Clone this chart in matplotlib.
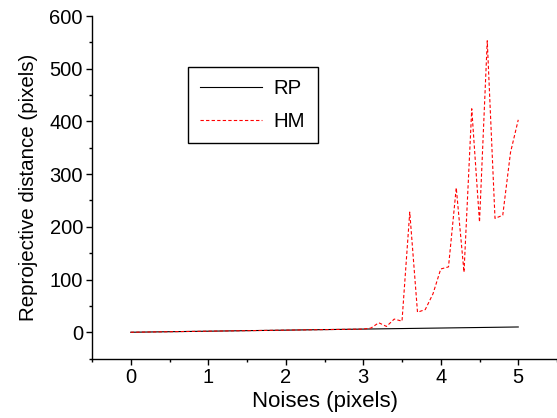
import matplotlib
matplotlib.use("Agg")
import matplotlib.pyplot as plt
from matplotlib.ticker import MultipleLocator

noise = [0.0, 0.1, 0.2, 0.3, 0.4, 0.5, 0.6, 0.7, 0.8, 0.9,
         1.0, 1.1, 1.2, 1.3, 1.4, 1.5, 1.6, 1.7, 1.8, 1.9,
         2.0, 2.1, 2.2, 2.3, 2.4, 2.5, 2.6, 2.7, 2.8, 2.9,
         3.0, 3.1, 3.2, 3.3, 3.4, 3.5, 3.6, 3.7, 3.8, 3.9,
         4.0, 4.1, 4.2, 4.3, 4.4, 4.5, 4.6, 4.7, 4.8, 4.9, 5.0]

rp = [0.0, 0.2, 0.4, 0.6, 0.8, 1.0, 1.2, 1.4, 1.6, 1.8,
      2.0, 2.2, 2.4, 2.6, 2.8, 3.0, 3.2, 3.4, 3.6, 3.8,
      4.0, 4.2, 4.4, 4.6, 4.8, 5.0, 5.2, 5.4, 5.6, 5.8,
      6.0, 6.2, 6.4, 6.6, 6.8, 7.0, 7.2, 7.4, 7.6, 7.8,
      8.0, 8.2, 8.4, 8.6, 8.8, 9.0, 9.2, 9.4, 9.6, 9.8, 10.0]

hm = [0.0, 0.2, 0.4, 0.6, 0.8, 1.0, 1.2, 1.4, 1.6, 1.8,
      2.0, 2.2, 2.4, 2.6, 2.8, 3.0, 3.2, 3.4, 3.6, 3.8,
      4.0, 4.2, 4.4, 4.6, 4.8, 5.0, 5.2, 5.4, 5.6, 5.8,
      6.0, 8.0, 18.0, 11.0, 25.0, 21.0, 228.0, 38.0, 43.0, 73.0,
      120.0, 124.0, 274.0, 114.0, 424.0, 209.0, 553.0, 216.0, 222.0, 341.0, 403.0]

series_labels = ["RP", "HM"]
x_label = "Noises (pixels)"
y_label = "Reprojective distance (pixels)"

plt.rcParams['font.family'] = ['Liberation Sans', 'DejaVu Sans']

W, H = 557, 418
L, R, T, B = 92, 557, 16, 358.6
fig = plt.figure(figsize=(W / 100, H / 100), dpi=100)
ax = fig.add_axes([L / W, 1 - B / H, (R - L) / W, (B - T) / H])

ax.plot(noise, rp, color='black', lw=0.8, label=series_labels[0])
ax.plot(noise, hm, color='red', lw=0.8, ls=(0, (3, 2)), label=series_labels[1])

ax.set_xlim(-0.5, 5.5)
ax.set_ylim(-50, 600)
ax.xaxis.set_major_locator(MultipleLocator(1))
ax.xaxis.set_minor_locator(MultipleLocator(0.5))
ax.yaxis.set_major_locator(MultipleLocator(100))
ax.yaxis.set_minor_locator(MultipleLocator(50))

for s in ['top', 'right']:
    ax.spines[s].set_visible(False)
for s in ['left', 'bottom']:
    ax.spines[s].set_linewidth(1.0)

ax.tick_params(which='major', direction='out', length=4.3, width=1.0, labelsize=14.5, pad=2.2)
ax.tick_params(which='minor', direction='out', length=2.3, width=1.0)

ax.set_xlabel(x_label, fontsize=16, labelpad=3)
ax.set_ylabel(y_label, fontsize=14.8, labelpad=8)

leg = ax.legend(loc='upper left',
                bbox_to_anchor=((188 - L) / (R - L), 1 - (66.7 - T) / (B - T)),
                borderaxespad=0,
                frameon=True, fancybox=False, edgecolor='black', framealpha=1,
                fontsize=14.7,
                handlelength=3.0, handletextpad=0.6, borderpad=0.6, labelspacing=0.7)
leg.get_frame().set_linewidth(1.0)

fig.savefig('out.png', dpi=100)
